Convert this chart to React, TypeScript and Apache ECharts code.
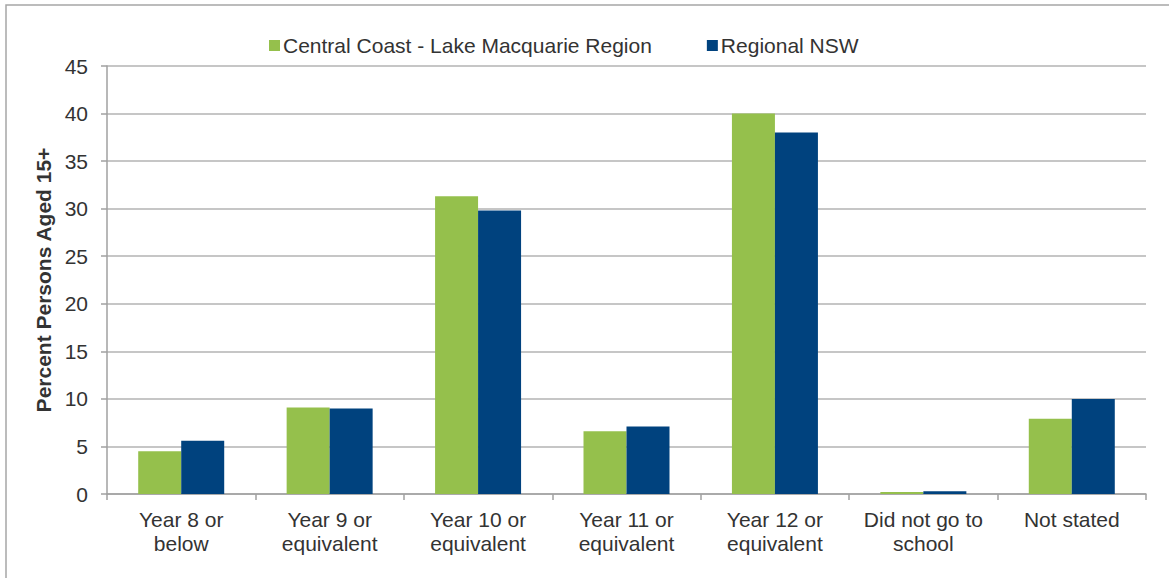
import React, { useEffect, useRef } from "react";
import * as echarts from "echarts";

const categories = [
  "Year 8 or\nbelow",
  "Year 9 or\nequivalent",
  "Year 10 or\nequivalent",
  "Year 11 or\nequivalent",
  "Year 12 or\nequivalent",
  "Did not go to\nschool",
  "Not stated",
];
const centralCoast = [4.5, 9.1, 31.3, 6.6, 40.0, 0.2, 7.9];
const regionalNSW = [5.6, 9.0, 29.8, 7.1, 38.0, 0.3, 10.0];
const seriesNames = ["Central Coast - Lake Macquarie Region", "Regional NSW"];
const yTitle = "Percent Persons Aged 15+";

const FONT = "'Liberation Sans', Arial, sans-serif";

export default function App() {
  const ref = useRef<HTMLDivElement>(null);
  useEffect(() => {
    if (!ref.current) return;
    const chart = echarts.init(ref.current, null, { renderer: "svg" });
    chart.setOption({
      animation: false,
      textStyle: { fontFamily: FONT },
      graphic: [
        {
          type: "rect",
          shape: { x: 6, y: 5, width: 1300, height: 700 },
          style: { fill: "none", stroke: "#a6a6a6", lineWidth: 1.5 },
          silent: true,
        },
      ],
      legend: {
        top: 30,
        left: 264,
        itemWidth: 11,
        itemHeight: 11,
        itemGap: 55,
        icon: "rect",
        textStyle: { fontSize: 21, color: "#333", fontFamily: FONT, padding: [0, 0, 0, -2] },
        data: seriesNames,
      },
      grid: { left: 107, right: 23, top: 66, bottom: 84 },
      xAxis: {
        type: "category",
        data: categories,
        axisLine: { lineStyle: { color: "#a0a0a0", width: 1.5 } },
        axisTick: { show: true, length: 6, lineStyle: { color: "#a0a0a0", width: 1.5 } },
        axisLabel: {
          fontSize: 21,
          color: "#333",
          lineHeight: 24,
          margin: 13,
          fontFamily: FONT,
          interval: 0,
        },
      },
      yAxis: {
        type: "value",
        min: 0,
        max: 45,
        interval: 5,
        name: yTitle,
        nameLocation: "middle",
        nameGap: 52,
        nameTextStyle: { fontSize: 21, fontWeight: "bold", color: "#333", fontFamily: FONT },
        axisLine: { show: true, lineStyle: { color: "#a0a0a0", width: 1.5 } },
        axisTick: { show: true, length: 6, lineStyle: { color: "#a0a0a0", width: 1.5 } },
        axisLabel: { fontSize: 21, color: "#333", margin: 19, fontFamily: FONT },
        splitLine: { lineStyle: { color: "#b3b3b3", width: 1.5 } },
      },
      series: [
        {
          name: seriesNames[0],
          type: "bar",
          data: centralCoast,
          barWidth: 43,
          barGap: "0%",
          itemStyle: { color: "#95c04c" },
        },
        {
          name: seriesNames[1],
          type: "bar",
          data: regionalNSW,
          barWidth: 43,
          barGap: "0%",
          itemStyle: { color: "#00427e" },
        },
      ],
    });
    return () => chart.dispose();
  }, []);
  return <div ref={ref} style={{ width: 1169, height: 578, position: "absolute", left: 0, top: 0 }} />;
}
